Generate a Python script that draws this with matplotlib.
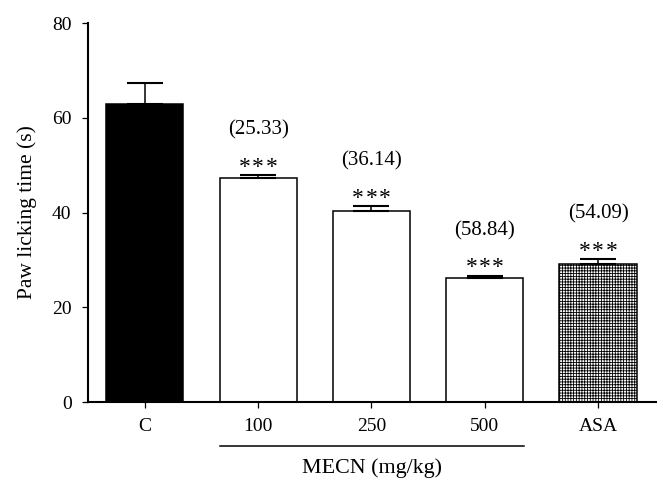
import matplotlib
matplotlib.use("Agg")
import matplotlib.pyplot as plt

plt.rcParams['font.family'] = ['Liberation Serif', 'DejaVu Serif']
plt.rcParams['hatch.linewidth'] = 0.6

categories = ["C", "100", "250", "500", "ASA"]
means = [63.0, 47.2, 40.4, 26.1, 29.1]
sems = [4.3, 0.7, 1.0, 0.6, 1.0]
inhibition = ["", "(25.33)", "(36.14)", "(58.84)", "(54.09)"]
signif = ["", "***", "***", "***", "***"]
face_colors = ["black", "white", "white", "white", "white"]
hatches = ["", "", "", "", "++++++"]
yticks = [0, 20, 40, 60, 80]

fig = plt.figure(figsize=(6.7, 4.94), dpi=100)
ax = fig.add_axes([0.1313, 0.1862, 0.8478, 0.7672])

x = list(range(len(categories)))
bars = ax.bar(x, means, width=0.68, color=face_colors, edgecolor="black",
              linewidth=1.1, zorder=2)
for b, h in zip(bars, hatches):
    if h:
        b.set_hatch(h)

ax.errorbar(x, means, yerr=[[0] * len(x), sems], fmt="none", ecolor="black",
            elinewidth=1.1, capsize=13, capthick=1.5, zorder=3)

star_gap = 9.6  # points between asterisks
for xi, m, s, lab, st in zip(x, means, sems, inhibition, signif):
    n = len(st)
    for k, ch in enumerate(st):
        dx = (k - (n - 1) / 2) * star_gap
        ax.annotate(ch, (xi, m + s), xytext=(dx, 1.5), textcoords="offset points",
                    ha="center", va="baseline", fontsize=17)
    if lab:
        ax.annotate(lab, (xi, m + s), xytext=(0, 32.5), textcoords="offset points",
                    ha="center", va="center", fontsize=15)

ax.set_xlim(-0.503, 4.512)
ax.set_ylim(0, 80)
ax.set_yticks(yticks)
ax.set_xticks(x)
ax.set_xticklabels(categories)
ax.tick_params(axis="both", direction="out", length=4.3, width=0.9,
               labelsize=14, pad=7.5)
ax.spines["top"].set_visible(False)
ax.spines["right"].set_visible(False)
ax.spines["left"].set_linewidth(1.5)
ax.spines["bottom"].set_linewidth(1.5)
ax.set_ylabel("Paw licking time (s)", fontsize=15.5)
ax.yaxis.set_label_coords(-0.09, 0.5)

trans = ax.get_xaxis_transform()
ax.plot([0.66, 3.35], [-0.116, -0.116], color="black", linewidth=1.1,
        transform=trans, clip_on=False)
ax.text(2.009, -0.174, "MECN (mg/kg)", transform=trans, ha="center",
        va="center", fontsize=15.8)

fig.savefig("out.png", dpi=100)
